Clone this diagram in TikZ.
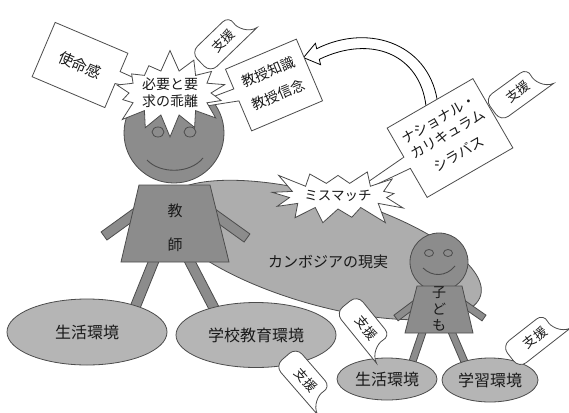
\documentclass[tikz,border=0pt]{standalone}
\usepackage{graphicx}
\usepackage{fontspec}
\setmainfont{Noto Sans CJK JP}
\usetikzlibrary{calc,shapes.geometric,shapes.symbols,shapes.callouts}

\definecolor{edge}{gray}{0.30}
\definecolor{skin}{gray}{0.55}
\definecolor{ground}{gray}{0.71}
\definecolor{field}{gray}{0.68}
\definecolor{ink}{gray}{0.10}

\tikzset{
  figure/.style={fill=skin, draw=edge, line width=0.8pt},
  word/.style={text=ink, inner sep=1pt, align=center},
  env/.style={ellipse, fill=ground, draw=edge, line width=0.8pt, inner sep=1pt,
    text=ink, font=\fontsize{16}{18}\selectfont},
  note/.style={rectangle callout, fill=white, draw=edge, line width=0.8pt,
    callout pointer width=13pt},
  burst/.style={starburst, fill=white, draw=edge, line width=0.8pt,
    align=center, text=ink, inner sep=1pt},
  tagline/.style={fill=white, draw=edge, line width=0.8pt}
}

% arm or leg as a small bar from #2 to #3, half width #1
\newcommand\limb[3]{%
  \filldraw[figure] ($(#2)!#1!90:(#3)$) -- ($(#3)!#1!-90:(#2)$)
    -- ($(#3)!#1!90:(#2)$) -- ($(#2)!#1!-90:(#3)$) -- cycle;}

% support tag: name, x, y, angle
\newcommand\shien[4]{%
  \begin{scope}[shift={(#2,#3)}, rotate=#4]
    \filldraw[tagline, rounded corners=9pt] (34,14) -- (-31,14) -- (-31,-14) -- (22,-14)
      [sharp corners] .. controls (19,0) and (24,12) .. (34,14) -- cycle;
  \end{scope}
  \node[word, font=\fontsize{13}{13}\selectfont] (#1) at (#2,#3) {\rotatebox{#4}{支援}};}

\begin{document}
\begin{tikzpicture}[x=1pt, y=-1pt]
  \fill[white] (0,0) rectangle (569,412);
  \useasboundingbox (0,0) rectangle (569,412);

  \filldraw[fill=field, draw=edge, line width=0.8pt, rotate around={-16:(322,250)}]
    (322,250) ellipse [x radius=165, y radius=55];
  \node[word, font=\fontsize{15}{18}\selectfont] (real) at (328,262) {カンボジアの現実};

  % teacher
  \limb{5pt}{155,258}{134,310}
  \limb{5pt}{188,258}{216,312}
  \limb{5pt}{104,236}{140,210}
  \limb{5pt}{208,210}{247,238}
  \filldraw[figure] (174,133) circle [radius=50];
  \filldraw[figure] (158,132) ellipse [x radius=6, y radius=5];
  \filldraw[figure] (190,132) ellipse [x radius=6, y radius=5];
  \draw[edge, line width=0.9pt] (147,160) .. controls (160,174) and (190,174) .. (203,158);
  \filldraw[figure] (139,185) -- (210,185) -- (229,262) -- (121,262) -- cycle;
  \node[word, font=\fontsize{15}{18}\selectfont] (tea) at (175,228) {教\\[16pt]師};

  \node[env, minimum width=160pt, minimum height=66pt] (life) at (87,332) {生活環境};
  \node[env, minimum width=160pt, minimum height=65pt] (school) at (256,335) {学校教育環境};
  \shien{s3}{306}{380}{-49}

  % child
  \limb{3.5pt}{424,328}{412,363}
  \limb{3.5pt}{450,328}{465,363}
  \limb{3.5pt}{396,318}{420,300}
  \limb{3.5pt}{458,300}{484,318}
  \filldraw[figure] (439,262) circle [radius=29];
  \filldraw[figure] (429,253) ellipse [x radius=4.5, y radius=3.5];
  \filldraw[figure] (448,253) ellipse [x radius=4.5, y radius=3.5];
  \draw[edge, line width=0.9pt] (423,268) .. controls (432,277) and (446,277) .. (455,266);
  \filldraw[figure] (417,286) -- (462,286) -- (473,333) -- (405,333) -- cycle;
  \node[word, font=\fontsize{14}{16.5}\selectfont] (kid) at (439,309) {子\\ど\\も};

  \node[env, minimum width=100pt, minimum height=42pt] (life2) at (387,379) {生活環境};
  \node[env, minimum width=96pt, minimum height=44pt] (study) at (490,380) {学習環境};
  \shien{s4}{366}{328}{-51}
  \shien{s5}{535}{338}{38}

  % curved arrow
  \filldraw[fill=white, draw=black, line width=0.8pt]
    (438,106) .. controls (432,45) and (370,22) .. (316.7,48.7) -- (315.4,43.3)
    -- (303.5,57.6) -- (320.6,64.7) -- (319.3,59.3)
    .. controls (372,34) and (420,55) .. (426,106) -- cycle;

  \node[note, rotate=-23, minimum width=79pt, minimum height=59pt,
    callout relative pointer={(63pt,5pt)}] (duty) at (80,65) {};
  \node[word, font=\fontsize{15}{18}\selectfont] (dutytext) at (duty.center)
    {\rotatebox{-23}{使命感}};
  \node[note, rotate=23, minimum width=77pt, minimum height=67pt,
    callout relative pointer={(-62pt,9pt)}] (know) at (274,85) {};
  \node[word, font=\fontsize{14}{17}\selectfont] (knowtext) at (know.center)
    {\rotatebox{23}{\begin{tabular}{@{}c@{}}教授知識\\[8pt]教授信念\end{tabular}}};
  \node[note, rotate=30, minimum width=99pt, minimum height=80pt,
    callout relative pointer={(-80pt,0pt)}] (plan) at (450,138) {};
  \node[word, font=\fontsize{14}{17}\selectfont] (plantext) at (plan.center)
    {\rotatebox{30}{\begin{tabular}{@{}c@{}}ナショナル・\\カリキュラム\\[6pt]シラバス\end{tabular}}};

  \node[burst, minimum width=116pt, minimum height=80pt, starburst points=14,
    starburst point height=22pt, random starburst=7, font=\fontsize{14}{17}\selectfont]
    (gap) at (170,93) {必要と要\\求の乖離};
  \node[burst, minimum width=132pt, minimum height=74pt, starburst points=13,
    starburst point height=24pt, random starburst=3, font=\fontsize{13.5}{16}\selectfont]
    (miss) at (338,196) {ミスマッチ};

  \shien{s1}{223}{41}{44}
  \shien{s2}{518}{92}{36}
\end{tikzpicture}
\end{document}
